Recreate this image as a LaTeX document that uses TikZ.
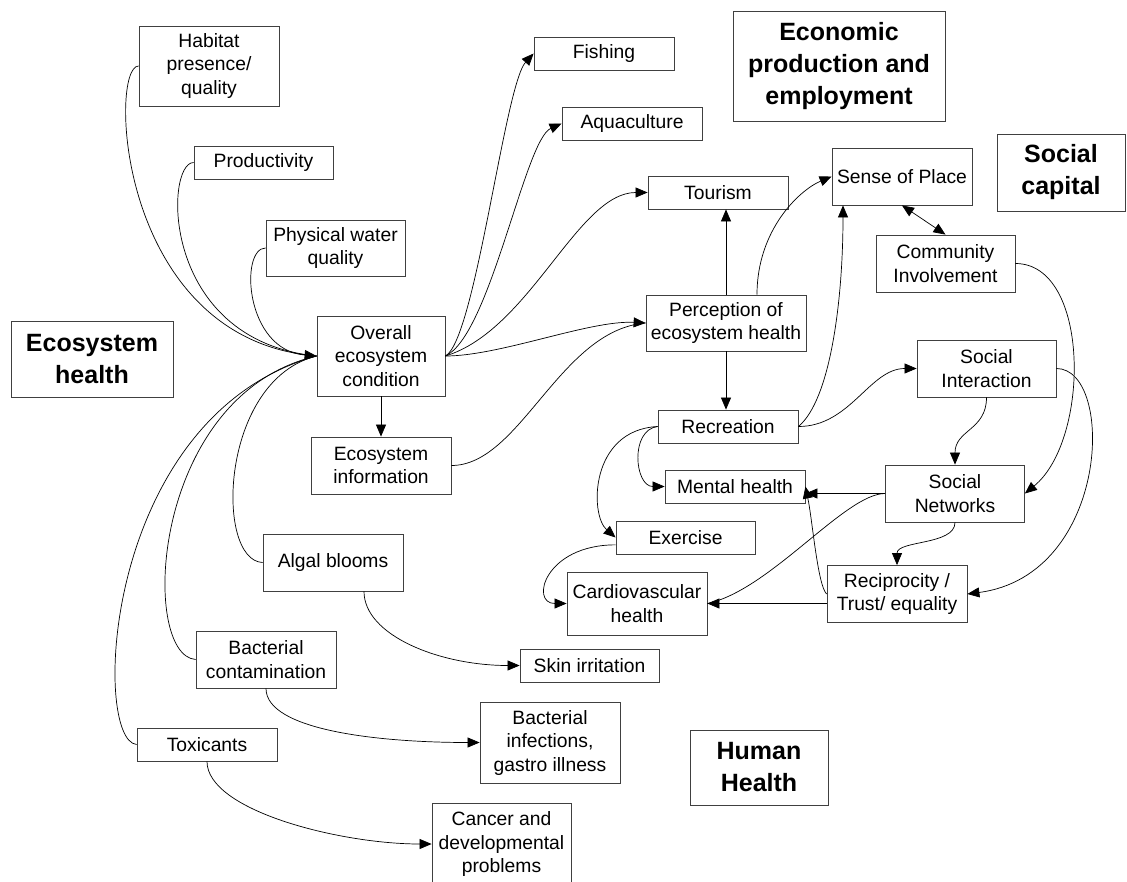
\documentclass[tikz,border=0pt]{standalone}
\usepackage{fontspec}
\setmainfont{Liberation Sans}
\usetikzlibrary{arrows.meta}

\tikzset{
  box/.style={draw=black!75, line width=0.8pt, minimum width=140pt, minimum height=33pt, align=center, inner sep=1pt, font=\fontsize{19.3}{23.5}\selectfont},
  title/.style={draw=black!75, line width=0.8pt, align=center, inner sep=1pt, font=\fontsize{25}{32}\selectfont\bfseries},
  link/.style={line width=0.7pt},
  >={Triangle[length=12pt,width=10pt]}
}

\begin{document}
\begin{tikzpicture}[x=1pt,y=-1pt]
\useasboundingbox (0,0) rectangle (1127,881);
\node (hab) at (209,66) [box, minimum height=80pt] {Habitat\\presence/\\quality};
\node (prod) at (263.5,162.5) [box, minimum width=139pt] {Productivity};
\node (phys) at (335.5,248) [box, minimum width=139pt, minimum height=56pt] {Physical water\\quality};
\node (over) at (381,356) [box, minimum width=128pt, minimum height=80pt] {Overall\\ecosystem\\condition};
\node (info) at (381,465.5) [box, minimum height=57pt] {Ecosystem\\information};
\node (algal) at (333,562.5) [box, minimum height=57pt] {Algal blooms};
\node (bact) at (266,659.5) [box, minimum height=57pt] {Bacterial\\contamination};
\node (tox) at (207,744.5) [box] {Toxicants};
\node (fish) at (604,53.5) [box] {Fishing};
\node (aqua) at (632,123.5) [box] {Aquaculture};
\node (tour) at (718,192.5) [box] {Tourism};
\node (perc) at (726,323) [box, minimum width=160pt, minimum height=56pt] {Perception of\\ecosystem health};
\node (rec) at (728,426.5) [box] {Recreation};
\node (mental) at (735,486.5) [box] {Mental health};
\node (exer) at (685.5,537.5) [box, minimum width=139pt] {Exercise};
\node (cardio) at (637,603.5) [box, minimum height=63pt] {Cardiovascular\\health};
\node (skin) at (589.5,665.5) [box, minimum width=139pt] {Skin irritation};
\node (binf) at (550,742.5) [box, minimum height=81pt] {Bacterial\\infections,\\gastro illness};
\node (canc) at (501.5,844) [box, minimum width=139pt, minimum height=82pt] {Cancer and\\developmental\\problems};
\node (sense) at (902,176.5) [box, minimum height=57pt] {Sense of Place};
\node (comm) at (945.5,263.5) [box, minimum width=139pt, minimum height=57pt] {Community\\Involvement};
\node (socint) at (986.5,368.5) [box, minimum width=139pt, minimum height=57pt] {Social\\Interaction};
\node (socn) at (955,493.5) [box, minimum width=139pt, minimum height=57pt] {Social\\Networks};
\node (recip) at (897,594) [box, minimum height=57pt] {Reciprocity /\\Trust/ equality};
\node (ecoh) at (92,359) [title, minimum width=162pt, minimum height=76pt] {Ecosystem\\health};
\node (econ) at (839,66) [title, minimum width=212pt, minimum height=110pt] {Economic\\production and\\employment};
\node (socc) at (1061,172.5) [title, minimum width=128pt, minimum height=77pt] {Social\\capital};
\node (human) at (759,767.5) [title, minimum width=138pt, minimum height=75pt] {Human\\Health};

\draw[link] (hab.west) .. controls +(-30,0) and +(-200,-16) .. (over.west);
\draw[link] (prod.west) .. controls +(-29,0) and +(-157,-16) .. (over.west);
\draw[link,->] (phys.west) .. controls +(-26,0) and +(-72,-6) .. (over.west);
\draw[link] (algal.west) .. controls +(-48,-2) and +(-97,24) .. (over.west);
\draw[link] (bact.west) .. controls +(-56,-4) and +(-167,39) .. (over.west);
\draw[link] (tox.west) .. controls +(-45,-4) and +(-215,60) .. (over.west);
\draw[link,->] (over.east) .. controls +(30,-16) and +(-29,31.5) .. (fish.west);
\draw[link,->] (over.east) .. controls +(45,-21) and +(-37,16.5) .. (aqua.west);
\draw[link,->] (over.east) .. controls +(85,-26) and +(-70,0) .. (tour.west);
\draw[link,->] (over.east) .. controls +(55,0) and +(-56,-3) .. (perc.west);
\draw[link,->] (over.south) -- (info.north);
\draw[link] (info.east) .. controls +(69,0) and +(-86,7) .. (perc.west);
\draw[link,->] (perc.north) -- (perc.north |- tour.south);
\draw[link,->] ([xshift=31pt]perc.north) .. controls +(0,-65) and +(-32,13.5) .. (sense.west);
\draw[link,->] (perc.south) -- (perc.south |- rec.north);
\draw[link,->] (rec.east) .. controls +(32,-26.5) and +(0,95) .. ([xshift=-59pt]sense.south);
\draw[link,->] (rec.east) .. controls +(52,0) and +(-47,0) .. (socint.west);
\draw[link,->] (rec.west) .. controls +(-28,3.5) and +(-30,0) .. (mental.west);
\draw[link,->] (rec.west) .. controls +(-68,3.5) and +(-26,-22.5) .. (exer.west);
\draw[link,->] (exer.186) .. controls +(-71,0) and +(-37,0) .. (cardio.west);
\draw[link,->] (socn.west) -- (socn.west -| mental.east);
\draw[link] (socn.west) .. controls +(-40,0) and +(63,-13.5) .. (cardio.east);
\draw[link,->] (cardio.east -| recip.west) -- (cardio.east);
\draw[link,->] (recip.west) .. controls +(-9,-9) and +(7,33.5) .. (mental.east);
\draw[link,->] (socint.south) .. controls +(0,33) and +(0,-35) .. (socn.north);
\draw[link,->] (socn.south) .. controls +(0,23) and +(0,-25) .. (recip.north);
\draw[link,->] (socint.east) .. controls +(59,0) and +(143,-19) .. (recip.east);
\draw[link,->] (comm.east) .. controls +(75,0) and +(65.5,-53.5) .. (socn.east);
\draw[link,<->] (sense.south) -- (comm.north);
\draw[link,->] ([xshift=31pt]algal.south) .. controls +(0,44) and +(-80,0) .. (skin.west);
\draw[link,->] (bact.south) .. controls +(0,42) and +(-100,0) .. (binf.west);
\draw[link,->] (tox.south) .. controls +(0,49) and +(-92,0) .. (canc.west);
\end{tikzpicture}
\end{document}
